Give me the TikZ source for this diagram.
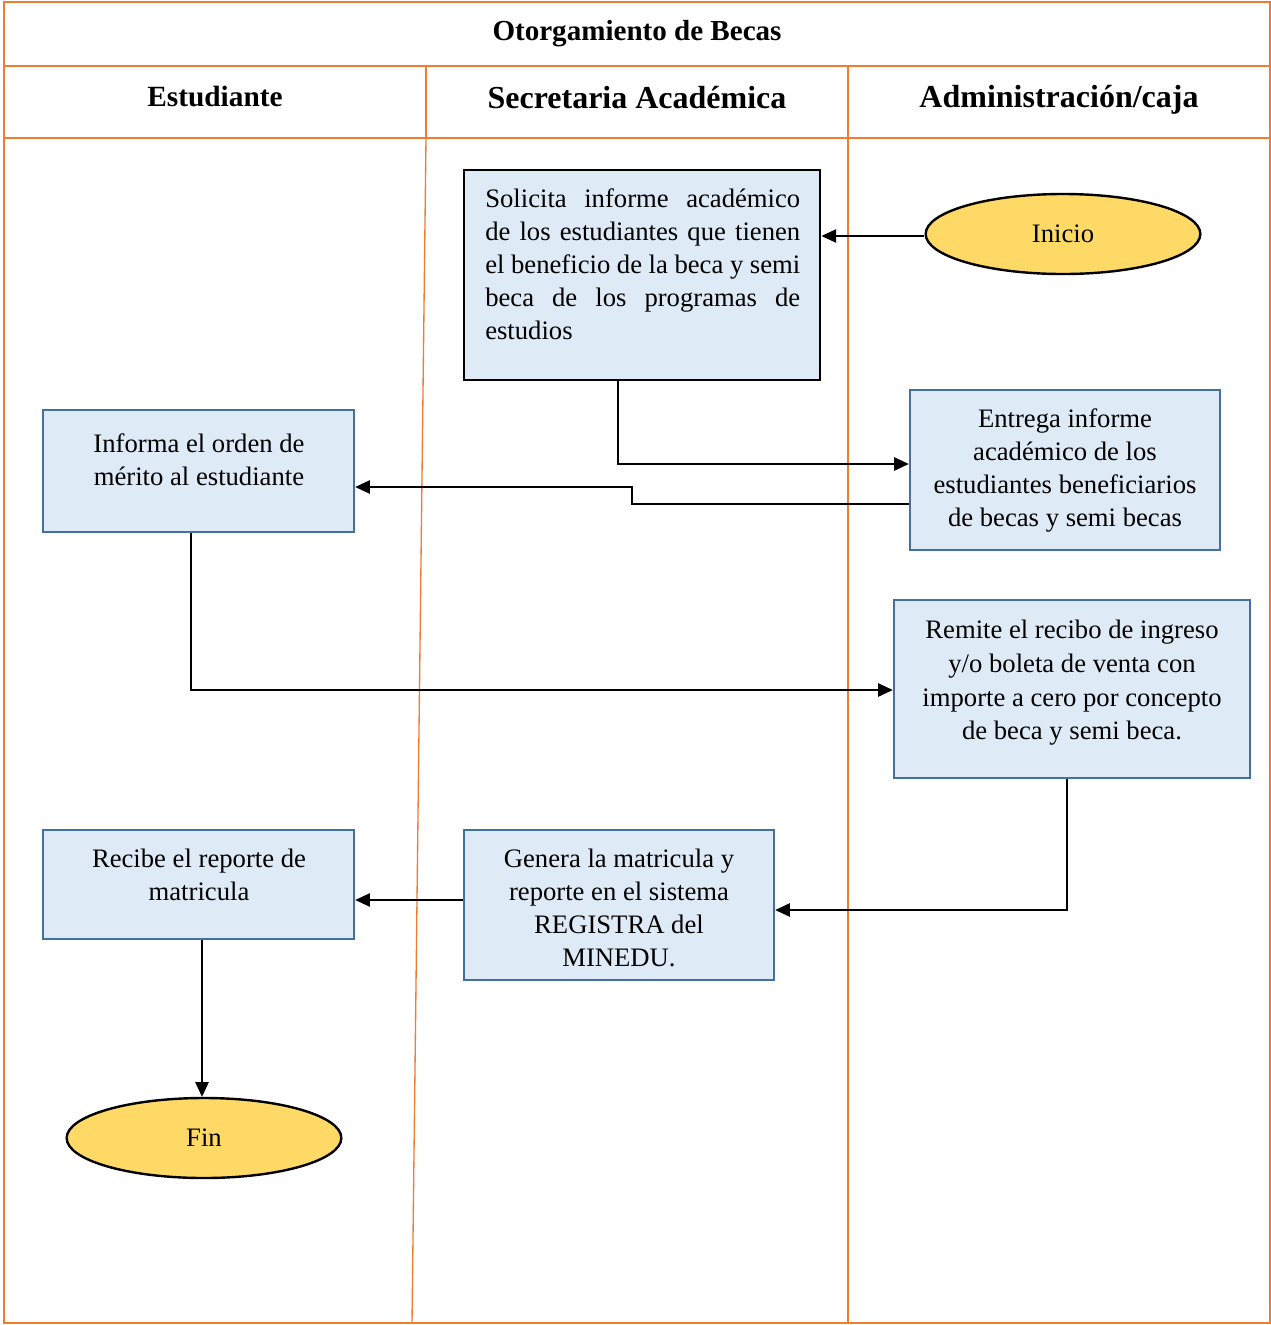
\documentclass[tikz,border=0pt]{standalone}
\usepackage{fontspec}
\setmainfont{Liberation Serif}
\usetikzlibrary{arrows.meta,shapes.geometric,fit}
\definecolor{lane}{HTML}{ED7D31}
\definecolor{boxfill}{HTML}{DEEAF6}
\definecolor{boxline}{HTML}{41719C}
\definecolor{termfill}{HTML}{FFD966}
\newlength{\solw}
\setlength{\solw}{236.25pt}
% stretchable/shrinkable inter-word space for the justified box
\newcommand{\jsp}{\hskip 5pt plus 1fil minus 3pt\relax}
% one justified line of fixed width
\newcommand{\jline}[1]{\leavevmode\hbox to \solw{#1}}
\begin{document}
\begin{tikzpicture}[x=0.75pt,y=-0.75pt,
  proc/.style={draw=boxline,fill=boxfill,line width=1.8pt,inner sep=0pt},
  keyproc/.style={draw=black,fill=boxfill,line width=2.2pt,inner sep=0pt},
  term/.style={ellipse,draw=black,fill=termfill,line width=1.8pt,inner sep=0pt,
    minimum width=206pt,minimum height=60pt,font=\fontsize{20}{24.75}\selectfont},
  txt/.style={align=center,inner sep=0pt,font=\fontsize{20}{24.75}\selectfont},
  head/.style={inner sep=0pt,font=\bfseries\fontsize{21.8}{26}\selectfont},
  conn/.style={draw=black,line width=1pt,-{Triangle[length=11pt,width=10pt]}},
  frame/.style={draw=lane,line width=1.9pt},
  sep/.style={draw=lane,line width=1.5pt},
  lanel/.style={draw=lane,line width=1pt}]

\useasboundingbox (0,0) rectangle (1271,1325);

% swimlane grid
\draw[frame] (4,2) rectangle (1270,1323);
\draw[sep] (4,66) -- (1270,66);
\draw[sep] (4,138) -- (1270,138);
\draw[sep] (426,66) -- (426,138);
\draw[sep] (848,66) -- (848,138);
\draw[lanel] (426,138) -- (412,1323);
\draw[lanel] (848,138) -- (848,1323);

% titles
\node[head] (title) at (637,34) {Otorgamiento de Becas};
\node[head,font=\bfseries\fontsize{22}{26}\selectfont] (h1) at (215,96) {Estudiante};
\node[head,font=\bfseries\fontsize{24}{28}\selectfont] (h2) at (637,98) {Secretaria Académica};
\node[head,font=\bfseries\fontsize{24}{28}\selectfont] (h3) at (1059,100) {Administración/caja};

% process boxes
\node[keyproc,fit={(464,170) (820,380)}] (solicita) {};
\node[proc,fit={(910,390) (1220,550)}] (entrega) {};
\node[proc,fit={(43,410) (354,532)}] (informa) {};
\node[proc,fit={(894,600) (1250,778)}] (remite) {};
\node[proc,fit={(43,830) (354,939)}] (recibe) {};
\node[proc,fit={(464,830) (774,980)}] (genera) {};

% terminators
\node[term] (inicio) at (1063,234) {Inicio};
\node[term] (fin) at (204,1138) {Fin};

% box texts
\node[txt,align=left,text width=\solw,anchor=north west] (tsolicita) at (485,188) {%
  \jline{Solicita\jsp informe\jsp académico}\\
  \jline{de\jsp los\jsp estudiantes\jsp que\jsp tienen}\\
  \jline{el\jsp beneficio\jsp de\jsp la\jsp beca\jsp y\jsp semi}\\
  \jline{beca\jsp de\jsp los\jsp programas\jsp de}\\
  estudios};
\node[txt] (tentrega) at (1065,470) {Entrega informe\\académico de los\\estudiantes beneficiarios\\de becas y semi becas};
\node[txt] (tinforma) at (199,460) {Informa el orden de\\mérito al estudiante};
\node[txt,font=\fontsize{20}{25.3}\selectfont] (tremite) at (1072,683) {Remite el recibo de ingreso\\y/o boleta de venta con\\importe a cero por concepto\\de beca y semi beca.};
\node[txt] (trecibe) at (199,875) {Recibe el reporte de\\matricula};
\node[txt] (tgenera) at (619,908) {Genera la matricula y\\reporte en el sistema\\REGISTRA del\\MINEDU.};

% bend points of the connectors
\coordinate (b0) at (900,236);
\coordinate (b1) at (618,464);
\coordinate (b2) at (632,504);
\coordinate (b3) at (632,487);
\coordinate (b4) at (191,690);
\coordinate (b5) at (1067,910);
\coordinate (b6) at (464,900);
\coordinate (b7) at (202,1000);

% connectors
\draw[conn] (inicio.west |- b0) -- (b0 -| solicita.east);
\draw[conn] (solicita.south -| b1) -- (b1) -- (b1 -| entrega.west);
\draw[conn] (entrega.west |- b2) -- (b2) -- (b3) -- (b3 -| informa.east);
\draw[conn] (informa.south -| b4) -- (b4) -- (b4 -| remite.west);
\draw[conn] (remite.south -| b5) -- (b5) -- (b5 -| genera.east);
\draw[conn] (genera.west |- b6) -- (b6 -| recibe.east);
\draw[conn] (recibe.south -| b7) -- (b7 |- fin.north);
\end{tikzpicture}
\end{document}
